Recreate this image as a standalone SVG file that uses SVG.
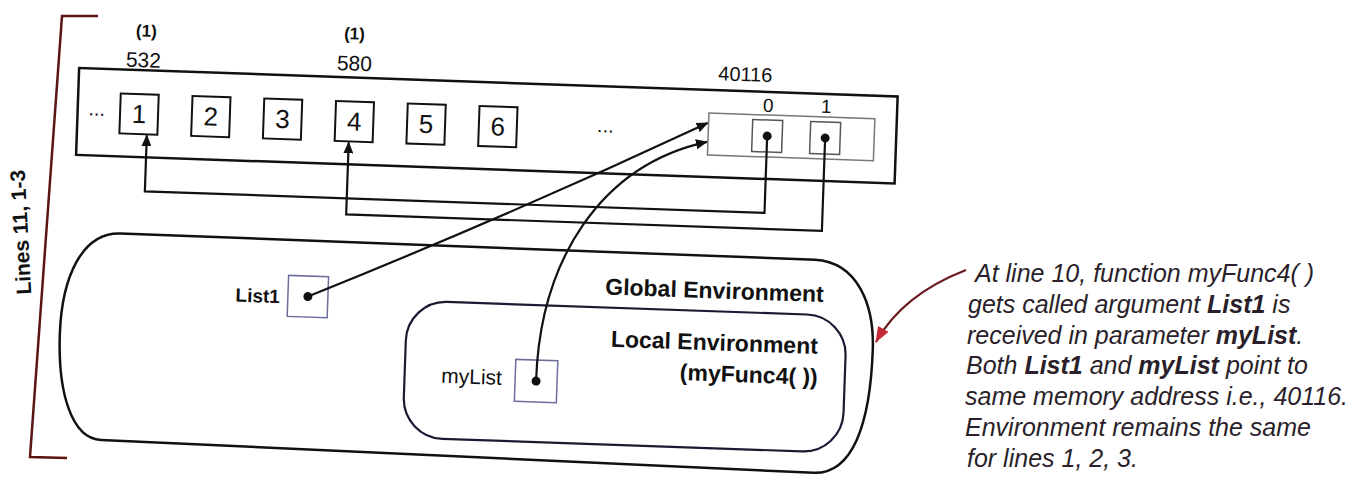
<svg xmlns="http://www.w3.org/2000/svg" width="1370" height="490" viewBox="0 0 1370 490">
<defs>
<marker id="ah" markerWidth="12" markerHeight="10" refX="11" refY="5" orient="auto" markerUnits="userSpaceOnUse"><path d="M0,0 L12,5 L0,10 z" fill="#111"/></marker>
<marker id="ahr" markerWidth="16" markerHeight="12" refX="15" refY="6" orient="auto" markerUnits="userSpaceOnUse"><path d="M0,0 L16,6 L0,12 z" fill="#c42a33"/></marker>
<style>
text{font-family:"Liberation Sans",Arial,sans-serif;fill:#111}
.cell{fill:#fff;stroke:#111;stroke-width:2}
.dig{font-size:26px;text-anchor:middle}
.lbl{font-size:21px;text-anchor:middle}
.hd{font-size:17px;font-weight:bold;text-anchor:middle}
.env{fill:none;stroke:#111;stroke-width:2.5}
.envt{font-size:23px;font-weight:bold;text-anchor:end}
.var{fill:#fff;stroke:#6b6f9a;stroke-width:1.5}
.conn{fill:none;stroke:#111;stroke-width:2.2}
.ann{font-size:25px;font-style:italic;fill:#2a1f2a}
.ann tspan.b{font-weight:bold}
</style>
</defs>
<g id="diagram" transform="rotate(2 450 250)">
<g id="global-env">
<path class="env" d="M 120 245 L 815 247 C 858 248 876 290 876 335 C 876 410 860 460 821 460 L 108 452 C 78 452 63 405 63 348 C 63 290 82 245 120 245 Z"/>
<text class="envt" x="825" y="289">Global Environment</text>
</g>
<g id="local-env">
<rect x="409" y="302" width="440" height="137" rx="40" fill="none" stroke="#1a1a33" stroke-width="2.2"/>
<text class="envt" x="821" y="341">Local Environment</text>
<text class="envt" x="822" y="372">(myFunc4( ))</text>
</g>
<g id="memory">
<rect x="73" y="81" width="819" height="87" fill="none" stroke="#111" stroke-width="2.5"/>
<text x="92" y="128" font-size="20" text-anchor="middle">...</text>
<text x="601" y="127" font-size="20" text-anchor="middle">...</text>
</g>
<g id="obj-532">
<text class="hd" x="139" y="47.5">(1)</text>
<text class="lbl" x="137" y="78">532</text>
<rect class="cell" x="115.5" y="105" width="38" height="40"/><text class="dig" x="134.5" y="134">1</text>
</g>
<g id="obj-2"><rect class="cell" x="187.3" y="105" width="38" height="40"/><text class="dig" x="206.3" y="134">2</text></g>
<g id="obj-3"><rect class="cell" x="259.1" y="105" width="38" height="40"/><text class="dig" x="278.1" y="134">3</text></g>
<g id="obj-580">
<text class="hd" x="347" y="43">(1)</text>
<text class="lbl" x="348" y="74">580</text>
<rect class="cell" x="330.9" y="105" width="38" height="40"/><text class="dig" x="349.9" y="134">4</text>
</g>
<g id="obj-5"><rect class="cell" x="402.7" y="105" width="38" height="40"/><text class="dig" x="421.7" y="134">5</text></g>
<g id="obj-6"><rect class="cell" x="474.5" y="105" width="38" height="40"/><text class="dig" x="493.5" y="134">6</text></g>
<g id="list-40116">
<text x="739" y="71" font-size="20" text-anchor="middle">40116</text>
<rect x="704" y="104" width="166" height="42" fill="#fff" stroke="#777" stroke-width="1.5"/>
<rect x="748" y="109" width="30" height="32" fill="#fff" stroke="#555" stroke-width="1.5"/>
<rect x="806" y="109" width="30" height="32" fill="#fff" stroke="#555" stroke-width="1.5"/>
<text x="763" y="101" font-size="19" text-anchor="middle">0</text>
<text x="821" y="100" font-size="19" text-anchor="middle">1</text>
<circle cx="763" cy="125" r="4.5" fill="#111"/>
<circle cx="821" cy="125" r="4.5" fill="#111"/>
</g>
<g id="var-List1">
<text x="281.6" y="309" font-family="'Liberation Mono',monospace" font-size="19" font-weight="bold" text-anchor="end">List1</text>
<rect class="var" x="289.6" y="281" width="40" height="41"/>
<circle cx="309.6" cy="301.5" r="4.5" fill="#111"/>
</g>
<g id="var-myList">
<text x="506.4" y="383" font-size="21" text-anchor="end">myList</text>
<rect class="var" x="519.6" y="357" width="42" height="42"/>
<circle cx="540.6" cy="378" r="4.5" fill="#111"/>
</g>
<g id="connectors">
<path class="conn" d="M 763 125 V 202 H 143 V 146" marker-end="url(#ah)"/>
<path class="conn" d="M 821 125 V 218 H 345 V 146" marker-end="url(#ah)"/>
<path class="conn" d="M 309.6 301.5 Q 509 213 703 114" marker-end="url(#ah)"/>
<path class="conn" d="M 540.6 378 C 540.3 256.8 597.8 159.8 703 133" marker-end="url(#ah)"/>
</g>
</g>
<g id="bracket" fill="none" stroke="#5a1414" stroke-width="2.5">
<path d="M 98 16 L 62 16 L 30 457 L 67 458"/>
</g>
<text x="0" y="0" font-size="21" font-weight="bold" text-anchor="middle" transform="translate(28 232) rotate(-93)">Lines 11, 1-3</text>
<g id="annotation">
<path d="M 966 270 C 930 284 896 306 876 342" fill="none" stroke="#6a1a20" stroke-width="2.2" marker-end="url(#ahr)"/>
<text class="ann" x="975" y="282">At line 10, function myFunc4( )</text>
<text class="ann" x="968" y="313">gets called argument <tspan class="b">List1</tspan> is</text>
<text class="ann" x="967" y="344">received in parameter <tspan class="b">myList</tspan>.</text>
<text class="ann" x="966" y="374">Both <tspan class="b">List1</tspan> and <tspan class="b">myList</tspan> point to</text>
<text class="ann" x="965" y="405">same memory address i.e., 40116.</text>
<text class="ann" x="965" y="436">Environment remains the same</text>
<text class="ann" x="967" y="467">for lines 1, 2, 3.</text>
</g>
</svg>
